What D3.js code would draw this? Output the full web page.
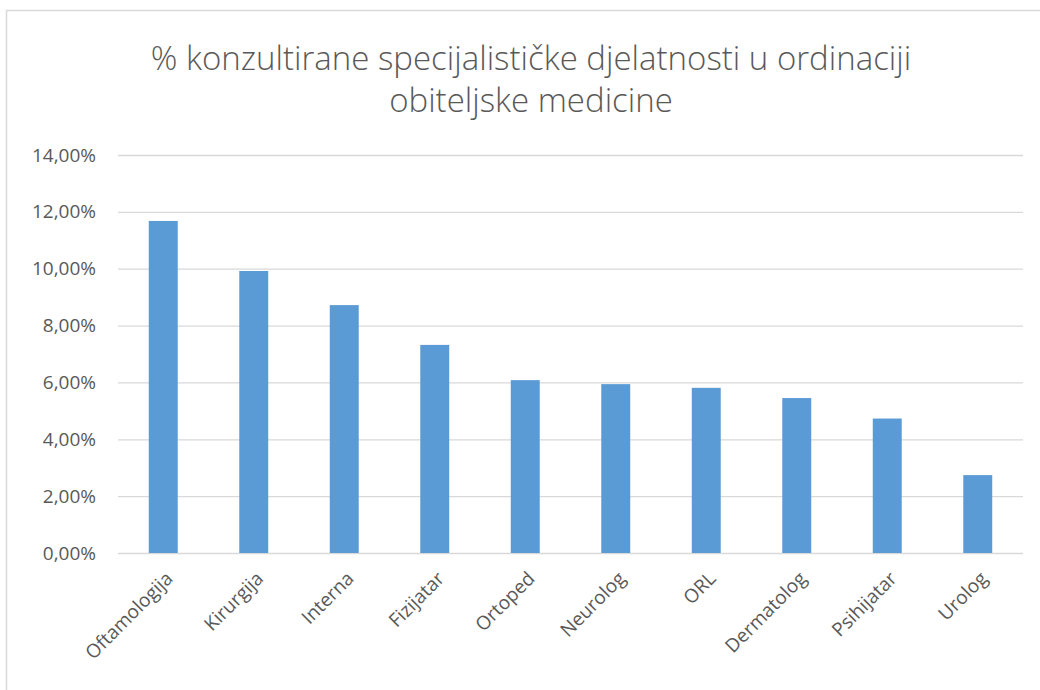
<!DOCTYPE html>
<html>
<head>
<meta charset="utf-8">
<script src="https://cdn.jsdelivr.net/npm/d3@7"></script>
<style>
  body { margin: 0; background: #fff; }
  svg { display: block; font-family: "Open Sans", "Liberation Sans", sans-serif; }
</style>
</head>
<body>
<div id="chart"></div>
<script>
// data
var categories = ["Oftamologija", "Kirurgija", "Interna", "Fizijatar", "Ortoped",
                  "Neurolog", "ORL", "Dermatolog", "Psihijatar", "Urolog"];
var values = [11.68, 9.92, 8.72, 7.32, 6.08, 5.94, 5.81, 5.45, 4.73, 2.74];
var yTicks = [0, 2, 4, 6, 8, 10, 12, 14];
var titleLines = ["% konzultirane specijalističke djelatnosti u ordinaciji",
                  "obiteljske medicine"];

var svgWidth = 1040;
var svgHeight = 690;

var margin = { top: 155, right: 17, bottom: 137, left: 118 };
var width = svgWidth - margin.left - margin.right;
var height = svgHeight - margin.top - margin.bottom;

var svg = d3.select("#chart")
    .append("svg")
    .attr("width", svgWidth)
    .attr("height", svgHeight);

// outer chart border (only top and left visible)
svg.append("rect")
    .attr("x", 6.5)
    .attr("y", 10.5)
    .attr("width", svgWidth + 20)
    .attr("height", svgHeight + 20)
    .attr("fill", "none")
    .attr("stroke", "#d9d9d9")
    .attr("stroke-width", 1.5);

// title
svg.append("text")
    .attr("text-anchor", "middle")
    .attr("fill", "#595959")
    .style("font-size", "33px")
    .style("font-weight", 300)
    .selectAll("tspan")
    .data(titleLines)
    .enter()
    .append("tspan")
    .attr("x", 531)
    .attr("y", (d, i) => 70 + i * 42)
    .text(d => d);

var g = svg.append("g")
    .attr("transform", "translate(" + margin.left + "," + margin.top + ")");

var x = d3.scaleBand()
    .domain(categories)
    .range([0, width])
    .paddingInner(0.68)
    .paddingOuter(0.34);

var y = d3.scaleLinear()
    .domain([0, 14])
    .range([height, 0]);

// gridlines + y labels
var yAxis = d3.axisLeft(y)
    .tickValues(yTicks)
    .tickSize(-width)
    .tickPadding(22)
    .tickFormat(d => d3.format(".2f")(d).replace(".", ",") + "%");

var yg = g.append("g").call(yAxis);
yg.select(".domain").remove();
yg.selectAll(".tick line").attr("stroke", "#d9d9d9").attr("stroke-width", 1.3);
yg.selectAll(".tick text")
    .attr("fill", "#595959")
    .style("font-size", "19px")
    .style("font-family", "Open Sans, sans-serif");

// bars
g.selectAll("rect.bar")
    .data(values)
    .enter()
    .append("rect")
    .attr("class", "bar")
    .attr("x", (d, i) => x(categories[i]))
    .attr("y", d => y(d))
    .attr("width", x.bandwidth())
    .attr("height", d => height - y(d))
    .attr("fill", "#5b9bd5");

// x labels
var xAxis = d3.axisBottom(x).tickSize(0).tickPadding(0);
var xg = g.append("g")
    .attr("transform", "translate(0," + height + ")")
    .call(xAxis);
xg.select(".domain").remove();
xg.selectAll(".tick text")
    .attr("fill", "#595959")
    .style("font-size", "19px")
    .style("font-family", "Open Sans, sans-serif")
    .attr("text-anchor", "end")
    .attr("dy", "0.35em")
    .attr("transform", "translate(6,22) rotate(-45)");
</script>
</body>
</html>
